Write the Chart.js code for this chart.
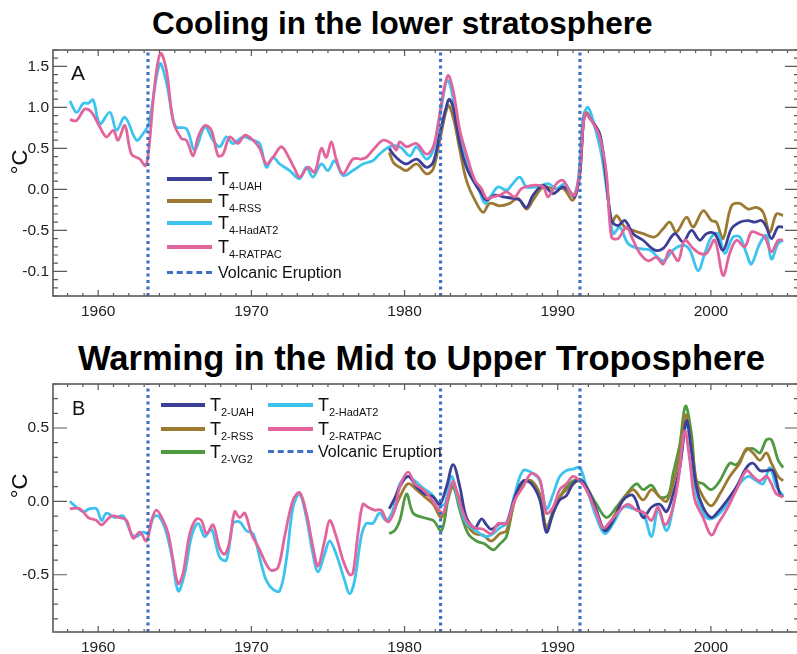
<!DOCTYPE html>
<html>
<head>
<meta charset="utf-8">
<script src="https://cdn.jsdelivr.net/npm/chart.js@4.4.1/dist/chart.umd.min.js"></script>
<style>
  body { margin: 0; width: 797px; height: 654px; overflow: hidden; background: #fff; position: relative;
         font-family: "Liberation Sans", Arial, sans-serif; color: #111; }
  .title { position: absolute; font-weight: bold; white-space: nowrap; color: #000; }
  .panel { position: absolute; left: 0; }
  .unit { position: absolute; font-size: 22px; transform: translate(-50%, -50%) rotate(-90deg); white-space: nowrap; }
  .tag { position: absolute; }
  .ln { position: absolute; height: 3.5px; }
  .dash { position: absolute; height: 0; border-top: 3.5px dashed #3f72c4; }
  .tx { position: absolute; font-size: 18px; line-height: 18px; white-space: nowrap; }
  .tx sub { font-size: 11px; vertical-align: -5px; line-height: 0; }
  .vx { position: absolute; font-size: 16px; line-height: 16px; white-space: nowrap; }
</style>
</head>
<body>

<div class="title" style="left:152px; top:8px; font-size:31.5px; line-height:31.5px;">Cooling in the lower stratosphere</div>
<div class="title" style="left:78px; top:341px; font-size:34.5px; line-height:34.5px;">Warming in the Mid to Upper Troposphere</div>

<canvas id="topChart" class="panel" style="top:0px;" width="800" height="320"></canvas>
<canvas id="bottomChart" class="panel" style="top:320px;" width="800" height="334"></canvas>

<div class="unit" style="left:20px; top:162px;">°C</div>
<div class="unit" style="left:20px; top:486px;">°C</div>
<div class="tag" style="left:71px; top:62px; font-size:21px; line-height:21px;">A</div>
<div class="tag" style="left:72px; top:398px; font-size:20px; line-height:20px;">B</div>

<!-- legend, panel A -->
<div class="ln" style="left:167px; top:177px; width:45px; background:#3b3f96;"></div>
<div class="tx" style="left:218px; top:170px;">T<sub>4-UAH</sub></div>
<div class="ln" style="left:167px; top:199px; width:45px; background:#9c7a32;"></div>
<div class="tx" style="left:218px; top:192px;">T<sub>4-RSS</sub></div>
<div class="ln" style="left:167px; top:221px; width:45px; background:#3cc3f0;"></div>
<div class="tx" style="left:218px; top:214px;">T<sub>4-HadAT2</sub></div>
<div class="ln" style="left:167px; top:245px; width:45px; background:#e2649c;"></div>
<div class="tx" style="left:218px; top:238px;">T<sub>4-RATPAC</sub></div>
<div class="dash" style="left:167px; top:271px; width:45px;"></div>
<div class="vx" style="left:218px; top:265px;">Volcanic Eruption</div>

<!-- legend, panel B -->
<div class="ln" style="left:161px; top:403px; width:44px; background:#3b3f96;"></div>
<div class="tx" style="left:210px; top:396px;">T<sub>2-UAH</sub></div>
<div class="ln" style="left:161px; top:427px; width:44px; background:#9c7a32;"></div>
<div class="tx" style="left:210px; top:420px;">T<sub>2-RSS</sub></div>
<div class="ln" style="left:161px; top:450px; width:44px; background:#4f9a40;"></div>
<div class="tx" style="left:210px; top:443px;">T<sub>2-VG2</sub></div>
<div class="ln" style="left:268px; top:403px; width:45px; background:#3cc3f0;"></div>
<div class="tx" style="left:318px; top:396px;">T<sub>2-HadAT2</sub></div>
<div class="ln" style="left:268px; top:427px; width:45px; background:#e2649c;"></div>
<div class="tx" style="left:318px; top:420px;">T<sub>2-RATPAC</sub></div>
<div class="dash" style="left:268px; top:450px; width:45px;"></div>
<div class="vx" style="left:318px; top:444px;">Volcanic Eruption</div>

<script>
// axis setup
const xMin = 1957.05;
const xMax = 2005.75;
const xTickYears = [1960, 1970, 1980, 1990, 2000];
const volcanoYears = [1963.25, 1982.35, 1991.45];

const topYMin = -1.3, topYMax = 1.7;
const topYTicks = [1.5, 1.0, 0.5, 0.0, -0.5, -1.0];
const topYLabels = ['1.5', '1.0', '0.5', '0.0', '-0.5', '-0.1']; // label as printed in the source figure

const botYMin = -0.89, botYMax = 0.8;
const botYTicks = [0.5, 0.0, -0.5];
const botYLabels = ['0.5', '0.0', '-0.5'];

// panel A: lower stratosphere (T4), [year, degC]
const t4Hadat = [[1958.15,1.08],[1958.59,0.94],[1959.02,1.05],[1959.35,1.05],[1959.67,1.09],[1960.11,0.80],[1960.76,0.94],
  [1961.2,0.72],[1961.74,0.88],[1962.5,0.60],[1962.93,0.68],[1963.3,0.80],[1964.02,1.53],[1964.46,1.30],[1964.89,0.85],
  [1965.11,0.76],[1965.76,0.74],[1966.3,0.48],[1966.96,0.76],[1967.5,0.60],[1967.93,0.52],[1968.37,0.64],[1968.8,0.56],
  [1969.46,0.64],[1970.11,0.60],[1970.54,0.56],[1970.98,0.27],[1971.41,0.39],[1971.85,0.31],[1972.5,0.23],[1973.15,0.13],
  [1973.59,0.27],[1974.02,0.15],[1974.57,0.31],[1975.0,0.23],[1975.43,0.35],[1975.98,0.17],[1976.63,0.23],[1977.28,0.31],
  [1977.93,0.35],[1978.37,0.43],[1979.02,0.52],[1979.69,0.52],[1980.34,0.41],[1980.78,0.52],[1981.43,0.37],[1981.87,0.48],
  [1982.3,0.88],[1982.74,1.33],[1982.95,1.29],[1983.28,1.00],[1983.72,0.60],[1984.26,0.23],[1984.8,0.03],[1985.24,-0.17],
  [1985.67,-0.07],[1986.11,0.03],[1986.65,-0.01],[1986.98,0.05],[1987.52,0.15],[1987.96,0.03],[1988.61,0.03],[1989.37,0.07],
  [1989.92,0.01],[1990.46,0.07],[1991.0,-0.07],[1991.33,0.11],[1991.66,0.88],[1991.98,1.00],[1992.42,0.76],[1992.85,0.43],
  [1993.29,-0.13],[1993.62,-0.54],[1994.05,-0.46],[1994.59,-0.66],[1995.25,-0.72],[1996.01,-0.74],[1996.88,-0.87],
  [1997.53,-0.74],[1998.18,-0.68],[1998.62,-0.74],[1999.16,-0.99],[1999.6,-0.78],[2000.03,-0.58],[2000.47,-0.54],
  [2000.9,-0.78],[2001.45,-0.58],[2001.88,-0.58],[2002.32,-0.78],[2002.64,-0.91],[2003.19,-0.66],[2003.62,-0.56],
  [2003.95,-0.85],[2004.39,-0.66],[2004.71,-0.62]];

const t4Ratpac = [[1958.15,0.85],[1958.59,0.84],[1959.13,0.98],[1959.57,0.94],[1960.11,0.76],[1960.54,0.64],[1960.98,0.72],
  [1961.3,0.60],[1961.74,0.78],[1962.17,0.43],[1962.72,0.37],[1963.09,0.29],[1963.3,0.48],[1963.7,1.29],[1964.07,1.66],
  [1964.46,1.45],[1964.89,0.84],[1965.43,0.62],[1965.76,0.60],[1966.2,0.41],[1966.52,0.64],[1966.96,0.78],[1967.39,0.72],
  [1967.83,0.41],[1968.15,0.43],[1968.59,0.64],[1969.13,0.56],[1969.57,0.66],[1970.11,0.60],[1970.54,0.50],[1970.98,0.31],
  [1971.41,0.39],[1971.96,0.52],[1972.5,0.37],[1972.83,0.25],[1973.15,0.15],[1973.7,0.27],[1974.13,0.21],[1974.57,0.50],
  [1974.89,0.39],[1975.22,0.58],[1975.54,0.37],[1975.98,0.19],[1976.63,0.37],[1977.17,0.37],[1977.5,0.39],[1977.93,0.48],
  [1978.59,0.60],[1979.13,0.56],[1979.46,0.48],[1979.69,0.58],[1980.13,0.52],[1980.78,0.56],[1981.43,0.43],[1981.87,0.52],
  [1982.19,0.80],[1982.52,1.17],[1982.84,1.39],[1983.17,1.21],[1983.61,0.72],[1984.04,0.43],[1984.59,0.11],[1985.02,0.01],
  [1985.35,-0.11],[1985.78,-0.09],[1986.22,-0.07],[1986.65,-0.03],[1987.2,-0.09],[1987.63,0.01],[1988.39,0.05],
  [1989.05,0.03],[1989.37,-0.09],[1989.92,0.07],[1990.35,0.11],[1990.79,-0.03],[1991.11,-0.07],[1991.44,0.23],
  [1991.77,0.92],[1992.2,0.84],[1992.74,0.64],[1993.18,0.19],[1993.51,-0.58],[1993.94,-0.60],[1994.49,-0.46],
  [1994.92,-0.62],[1995.36,-0.78],[1995.9,-0.87],[1996.44,-0.83],[1996.88,-0.91],[1997.31,-0.74],[1997.86,-0.87],
  [1998.29,-0.62],[1998.84,-0.72],[1999.27,-0.78],[1999.71,-0.78],[2000.25,-0.62],[2000.79,-1.05],[2001.23,-0.78],
  [2001.67,-0.62],[2002.21,-0.70],[2002.64,-0.52],[2003.08,-0.54],[2003.51,-0.58],[2003.95,-0.76],[2004.39,-0.62],
  [2004.71,-0.62]];

const t4Uah = [[1979.0,0.50],[1979.3,0.42],[1979.69,0.35],[1980.13,0.31],[1980.78,0.37],[1981.43,0.27],[1981.87,0.33],
  [1982.3,0.68],[1982.74,1.02],[1982.91,1.10],[1983.17,1.00],[1983.61,0.56],[1984.04,0.27],[1984.59,0.07],[1985.02,-0.05],
  [1985.35,-0.13],[1985.89,-0.07],[1986.43,-0.09],[1987.09,-0.11],[1987.52,-0.13],[1987.96,-0.22],[1988.39,-0.07],
  [1989.05,0.05],[1989.7,-0.05],[1990.35,0.03],[1990.79,-0.03],[1991.11,-0.09],[1991.44,0.19],[1991.77,0.92],[1992.2,0.84],
  [1992.74,0.68],[1993.07,0.27],[1993.51,-0.38],[1993.94,-0.44],[1994.38,-0.38],[1994.92,-0.54],[1995.57,-0.62],
  [1996.33,-0.74],[1996.88,-0.72],[1997.64,-0.54],[1998.18,-0.64],[1998.73,-0.50],[1999.27,-0.62],[1999.71,-0.54],
  [2000.25,-0.54],[2000.79,-0.74],[2001.34,-0.48],[2001.88,-0.40],[2002.43,-0.38],[2002.86,-0.40],[2003.3,-0.38],
  [2003.62,-0.46],[2003.95,-0.60],[2004.39,-0.46],[2004.71,-0.46]];

const t4Rss = [[1979.0,0.45],[1979.3,0.32],[1979.69,0.27],[1980.13,0.23],[1980.78,0.31],[1981.43,0.19],[1981.87,0.25],
  [1982.3,0.60],[1982.84,1.02],[1983.17,0.88],[1983.61,0.48],[1984.04,0.11],[1984.59,-0.13],[1985.13,-0.28],[1985.56,-0.17],
  [1986.22,-0.20],[1986.87,-0.17],[1987.41,-0.11],[1987.96,-0.24],[1988.39,-0.13],[1989.05,0.03],[1989.7,0.01],
  [1990.35,0.01],[1991.0,-0.13],[1991.44,0.19],[1991.77,0.94],[1992.2,0.86],[1992.74,0.64],[1993.07,0.31],[1993.51,-0.42],
  [1993.83,-0.32],[1994.38,-0.46],[1994.92,-0.50],[1995.57,-0.54],[1996.33,-0.58],[1996.88,-0.48],[1997.31,-0.40],
  [1997.75,-0.52],[1998.4,-0.34],[1998.84,-0.46],[1999.49,-0.26],[2000.03,-0.38],[2000.36,-0.40],[2000.79,-0.60],
  [2001.34,-0.20],[2001.88,-0.17],[2002.43,-0.24],[2002.97,-0.22],[2003.41,-0.28],[2003.84,-0.52],[2004.28,-0.30],
  [2004.71,-0.32]];

// panel B: mid to upper troposphere (T2), [year, degC]
const t2Ratpac = [[1958.15,-0.05],[1958.8,-0.05],[1959.35,-0.11],[1959.89,-0.13],[1960.22,-0.16],[1960.54,-0.13],
  [1960.87,-0.10],[1961.41,-0.11],[1961.85,-0.13],[1962.28,-0.25],[1962.72,-0.21],[1963.15,-0.27],[1963.48,-0.13],
  [1963.8,-0.06],[1964.24,-0.13],[1964.57,-0.22],[1964.89,-0.40],[1965.22,-0.56],[1965.54,-0.49],[1965.98,-0.22],
  [1966.41,-0.12],[1966.74,-0.13],[1967.07,-0.22],[1967.5,-0.16],[1967.93,-0.32],[1968.26,-0.36],[1968.59,-0.27],
  [1968.91,-0.07],[1969.24,-0.11],[1969.57,-0.08],[1970.0,-0.22],[1970.54,-0.33],[1970.98,-0.43],[1971.3,-0.47],
  [1971.74,-0.45],[1972.17,-0.24],[1972.72,0.01],[1973.15,0.06],[1973.59,-0.08],[1974.02,-0.31],[1974.35,-0.44],
  [1974.78,-0.27],[1975.11,-0.13],[1975.54,-0.24],[1975.98,-0.40],[1976.41,-0.50],[1976.63,-0.49],[1976.96,-0.22],
  [1977.28,-0.02],[1977.61,-0.04],[1978.04,-0.06],[1978.48,-0.06],[1978.91,-0.14],[1979.35,-0.06],[1979.69,0.10],
  [1980.23,0.20],[1980.67,0.12],[1981.21,0.08],[1981.65,0.03],[1982.19,-0.05],[1982.52,-0.08],[1982.84,0.03],
  [1983.17,0.14],[1983.5,0.03],[1984.04,-0.13],[1984.59,-0.18],[1985.13,-0.19],[1985.67,-0.22],[1986.11,-0.15],
  [1986.65,-0.15],[1987.2,0.01],[1987.74,0.10],[1988.28,0.19],[1988.83,0.15],[1989.26,-0.08],[1989.7,-0.04],
  [1990.13,0.08],[1990.57,0.12],[1991.0,0.17],[1991.44,0.14],[1991.87,0.08],[1992.53,-0.08],[1992.96,-0.18],
  [1993.4,-0.14],[1994.05,-0.06],[1994.59,-0.02],[1995.14,-0.06],[1995.68,-0.08],[1996.12,-0.13],[1996.55,-0.04],
  [1996.99,-0.16],[1997.42,-0.08],[1997.86,0.14],[1998.29,0.48],[1998.62,0.28],[1998.95,0.01],[1999.49,-0.11],
  [2000.03,-0.23],[2000.47,-0.15],[2001.01,-0.06],[2001.67,0.08],[2002.32,0.21],[2002.75,0.17],[2003.19,0.14],
  [2003.62,0.17],[2003.95,0.12],[2004.28,0.05],[2004.71,0.03]];

const t2Hadat = [[1958.15,0.00],[1958.59,-0.04],[1959.02,-0.07],[1959.46,-0.05],[1959.89,-0.05],[1960.22,-0.13],
  [1960.54,-0.08],[1961.09,-0.11],[1961.63,-0.10],[1962.17,-0.22],[1962.5,-0.24],[1962.93,-0.21],[1963.26,-0.22],
  [1963.59,-0.11],[1963.91,-0.10],[1964.35,-0.18],[1964.78,-0.36],[1965.22,-0.61],[1965.65,-0.49],[1966.09,-0.24],
  [1966.52,-0.15],[1966.96,-0.24],[1967.39,-0.19],[1967.93,-0.38],[1968.37,-0.40],[1968.8,-0.15],[1969.24,-0.14],
  [1969.67,-0.20],[1970.11,-0.22],[1970.65,-0.43],[1970.98,-0.54],[1971.41,-0.60],[1971.85,-0.61],[1972.28,-0.40],
  [1972.72,-0.04],[1973.15,0.05],[1973.59,-0.11],[1974.02,-0.36],[1974.35,-0.48],[1974.78,-0.36],[1975.11,-0.27],
  [1975.54,-0.36],[1976.09,-0.54],[1976.41,-0.63],[1976.74,-0.54],[1977.17,-0.24],[1977.5,-0.15],[1977.93,-0.15],
  [1978.37,-0.08],[1978.8,-0.13],[1979.24,-0.06],[1979.69,0.12],[1980.23,0.17],[1980.67,0.14],[1981.21,0.09],
  [1981.76,0.05],[1982.3,-0.02],[1982.63,-0.02],[1983.06,0.17],[1983.5,0.01],[1984.04,-0.15],[1984.69,-0.20],
  [1985.24,-0.24],[1985.78,-0.22],[1986.22,-0.18],[1986.65,-0.15],[1987.2,0.05],[1987.74,0.21],[1988.39,0.19],
  [1988.83,0.14],[1989.26,-0.05],[1989.7,0.05],[1990.13,0.17],[1990.57,0.21],[1991.0,0.22],[1991.44,0.23],
  [1991.87,0.10],[1992.53,-0.11],[1993.07,-0.22],[1993.62,-0.15],[1994.27,-0.04],[1994.92,-0.05],[1995.57,-0.08],
  [1996.12,-0.24],[1996.55,-0.06],[1997.1,-0.20],[1997.53,-0.04],[1997.97,0.23],[1998.4,0.53],[1998.73,0.33],
  [1999.05,0.05],[1999.49,-0.08],[1999.92,-0.12],[2000.58,-0.08],[2001.23,0.01],[2001.88,0.12],[2002.43,0.17],
  [2002.97,0.14],[2003.41,0.12],[2003.84,0.23],[2004.28,0.10],[2004.71,0.04]];

const t2Uah = [[1979.0,-0.05],[1979.35,0.02],[1979.69,0.10],[1980.23,0.17],[1980.78,0.10],[1981.32,0.05],[1981.87,0.03],
  [1982.3,-0.02],[1982.74,0.10],[1983.17,0.25],[1983.61,0.10],[1984.04,-0.11],[1984.59,-0.18],[1985.02,-0.12],
  [1985.35,-0.16],[1985.67,-0.19],[1986.22,-0.15],[1986.65,-0.15],[1987.2,0.03],[1987.74,0.14],[1988.28,0.12],
  [1988.83,0.01],[1989.26,-0.21],[1989.7,-0.08],[1990.13,0.01],[1990.57,0.04],[1991.0,0.12],[1991.44,0.15],[1991.87,0.10],
  [1992.53,-0.06],[1993.07,-0.20],[1993.62,-0.13],[1994.27,0.01],[1994.92,0.04],[1995.57,-0.11],[1996.12,-0.04],
  [1996.66,-0.02],[1997.1,-0.07],[1997.53,0.05],[1997.97,0.23],[1998.4,0.55],[1998.73,0.35],[1999.05,0.10],
  [1999.49,-0.04],[2000.03,-0.11],[2000.47,-0.07],[2001.01,0.00],[2001.67,0.10],[2002.32,0.23],[2002.75,0.26],
  [2003.19,0.21],[2003.62,0.21],[2004.06,0.21],[2004.5,0.05],[2004.71,0.03]];

const t2Rss = [[1979.0,-0.12],[1979.35,-0.05],[1979.69,0.03],[1980.23,0.12],[1980.78,0.08],[1981.32,0.03],[1981.87,-0.02],
  [1982.41,-0.11],[1982.84,0.03],[1983.17,0.11],[1983.61,0.01],[1984.04,-0.15],[1984.59,-0.22],[1985.13,-0.23],
  [1985.67,-0.27],[1986.22,-0.22],[1986.65,-0.20],[1987.2,0.01],[1987.74,0.13],[1988.28,0.14],[1988.83,0.05],
  [1989.26,-0.18],[1989.7,-0.08],[1990.13,0.03],[1990.57,0.08],[1991.0,0.12],[1991.44,0.14],[1991.87,0.08],
  [1992.53,-0.08],[1993.07,-0.19],[1993.62,-0.11],[1994.27,0.01],[1994.92,0.08],[1995.57,0.01],[1996.12,0.08],
  [1996.66,0.03],[1997.1,0.00],[1997.53,0.12],[1997.97,0.33],[1998.36,0.59],[1998.73,0.39],[1999.05,0.14],[1999.49,0.03],
  [2000.03,-0.03],[2000.58,0.05],[2001.23,0.17],[2001.88,0.26],[2002.32,0.36],[2002.75,0.33],[2003.19,0.28],
  [2003.62,0.33],[2003.95,0.26],[2004.39,0.17],[2004.71,0.14]];

const t2Vg2 = [[1979.0,-0.22],[1979.35,-0.20],[1979.69,-0.13],[1980.13,0.05],[1980.56,-0.08],[1981.21,-0.11],
  [1981.87,-0.13],[1982.41,-0.20],[1982.84,0.01],[1983.17,0.10],[1983.61,-0.06],[1984.15,-0.22],[1984.69,-0.27],
  [1985.24,-0.29],[1985.78,-0.33],[1986.22,-0.29],[1986.65,-0.24],[1987.2,0.01],[1987.74,0.12],[1988.28,0.14],
  [1988.83,0.03],[1989.26,-0.18],[1989.7,-0.06],[1990.13,0.03],[1990.57,0.10],[1991.0,0.14],[1991.44,0.15],[1991.87,0.10],
  [1992.53,-0.02],[1993.18,-0.11],[1993.83,-0.04],[1994.49,0.05],[1995.14,0.12],[1995.57,0.08],[1996.12,0.11],
  [1996.66,0.03],[1997.2,0.04],[1997.53,0.19],[1997.97,0.39],[1998.34,0.65],[1998.73,0.46],[1999.05,0.14],[1999.49,0.12],
  [2000.03,0.08],[2000.58,0.14],[2001.23,0.26],[2001.67,0.25],[2002.32,0.35],[2002.75,0.36],[2003.19,0.33],
  [2003.62,0.42],[2003.95,0.42],[2004.39,0.28],[2004.71,0.23]];

const colors = {
    uah: '#3b3f96',
    rss: '#9c7a32',
    hadat: '#3cc3f0',
    ratpac: '#e2649c',
    vg2: '#4f9a40',
    volcano: '#3f72c4'
};

const tickFont = { family: '"Liberation Sans", Arial, sans-serif', size: 15.5 };

// Frame with inward tick marks on all four sides, positioned by the chart scales
const framePlugin = {
    id: 'frame',
    afterDatasetsDraw(chart) {
        const { ctx, chartArea: a, scales: { x, y } } = chart;
        ctx.save();
        ctx.strokeStyle = '#5a5a5a';
        ctx.lineWidth = 1.6;
        ctx.strokeRect(a.left, a.top, a.right - a.left, a.bottom - a.top);
        ctx.lineWidth = 1.2;
        ctx.beginPath();
        for (let yr = Math.ceil(x.min); yr <= x.max; yr++) {
            const px = x.getPixelForValue(yr);
            const len = yr % 10 === 0 ? 6 : 3;
            ctx.moveTo(px, a.bottom); ctx.lineTo(px, a.bottom - len);
            ctx.moveTo(px, a.top); ctx.lineTo(px, a.top + len);
        }
        for (let k = Math.ceil(y.min * 10); k <= Math.floor(y.max * 10); k++) {
            const py = y.getPixelForValue(k / 10);
            const len = k % 5 === 0 ? 14 : 5;
            ctx.moveTo(a.left, py); ctx.lineTo(a.left + len, py);
            ctx.moveTo(a.right, py); ctx.lineTo(a.right - len, py);
        }
        ctx.stroke();
        ctx.restore();
    }
};

function series(points, color, order) {
    return {
        data: points.map(p => ({ x: p[0], y: p[1] })),
        borderColor: color,
        borderWidth: 2.8,
        pointRadius: 0,
        tension: 0.35,
        fill: false,
        order: order
    };
}

function volcanoLines(yMin, yMax) {
    return volcanoYears.map(yr => ({
        data: [{ x: yr, y: yMin }, { x: yr, y: yMax }],
        borderColor: colors.volcano,
        borderWidth: 3.2,
        borderDash: [3, 3.5],
        pointRadius: 0,
        fill: false,
        order: 0
    }));
}

function makeChart(id, datasets, yMin, yMax, yTicks, yLabels, padTop, xHeight) {
    return new Chart(document.getElementById(id), {
        type: 'line',
        data: { datasets: datasets },
        options: {
            responsive: false,
            animation: false,
            layout: { padding: { top: padTop, right: 1, left: 0, bottom: 0 } },
            plugins: { legend: { display: false }, tooltip: { enabled: false } },
            scales: {
                x: {
                    type: 'linear',
                    min: xMin,
                    max: xMax,
                    grid: { display: false, drawTicks: false },
                    border: { display: false },
                    afterBuildTicks: s => { s.ticks = xTickYears.map(v => ({ value: v })); },
                    afterFit: s => { s.height = xHeight; },
                    ticks: {
                        padding: 6,
                        color: '#222',
                        font: tickFont,
                        maxRotation: 0,
                        callback: v => String(v)
                    }
                },
                y: {
                    min: yMin,
                    max: yMax,
                    grid: { display: false, drawTicks: false },
                    border: { display: false },
                    afterBuildTicks: s => { s.ticks = yTicks.map(v => ({ value: v })); },
                    afterFit: s => { s.width = 53; },
                    ticks: {
                        padding: 4,
                        color: '#222',
                        font: tickFont,
                        callback: v => yLabels[yTicks.indexOf(v)]
                    }
                }
            }
        },
        plugins: [framePlugin]
    });
}

makeChart('topChart', [
    ...volcanoLines(topYMin, topYMax),
    series(t4Ratpac, colors.ratpac, 1),
    series(t4Uah, colors.uah, 2),
    series(t4Hadat, colors.hadat, 3),
    series(t4Rss, colors.rss, 4)
], topYMin, topYMax, topYTicks, topYLabels, 50, 24);

makeChart('bottomChart', [
    ...volcanoLines(botYMin, botYMax),
    series(t2Ratpac, colors.ratpac, 1),
    series(t2Uah, colors.uah, 2),
    series(t2Hadat, colors.hadat, 3),
    series(t2Rss, colors.rss, 4),
    series(t2Vg2, colors.vg2, 5)
], botYMin, botYMax, botYTicks, botYLabels, 64, 22);
</script>
</body>
</html>
